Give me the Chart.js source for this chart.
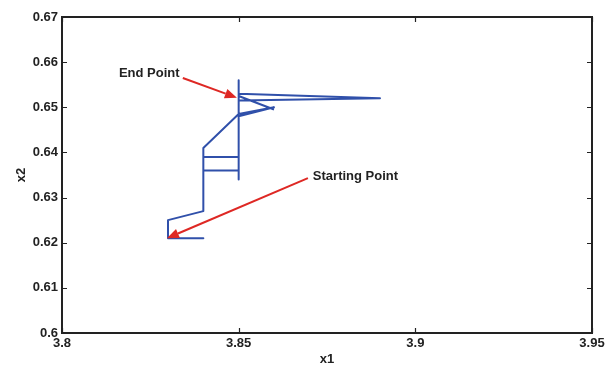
<!DOCTYPE html>
<html>
<head>
<meta charset="utf-8">
<script src="https://cdn.jsdelivr.net/npm/chart.js@4/dist/chart.umd.min.js"></script>
<style>
  html, body { margin: 0; padding: 0; background: #fff; }
  #wrap { width: 610px; height: 367px; }
</style>
</head>
<body>
<div id="wrap"><canvas id="c" width="610" height="367"></canvas></div>
<script>
// Trajectory (x1, x2)
const pathX1 = [3.83, 3.84, 3.83, 3.83, 3.84, 3.84, 3.84, 3.85, 3.85, 3.85, 3.84, 3.84, 3.85, 3.86, 3.85, 3.85, 3.85, 3.85, 3.89, 3.85, 3.85, 3.86];
const pathX2 = [0.621, 0.621, 0.621, 0.625, 0.627, 0.641, 0.636, 0.636, 0.634, 0.639, 0.639, 0.641, 0.6485, 0.650, 0.648, 0.634, 0.656, 0.6515, 0.652, 0.653, 0.6525, 0.6495];

const xTicks = [3.8, 3.85, 3.9, 3.95];
const yTicks = [0.6, 0.61, 0.62, 0.63, 0.64, 0.65, 0.66, 0.67];

// Annotations (data coordinates)
const annotLabels = ['End Point', 'Starting Point'];
const annotTextX = [3.8161, 3.8710];
const annotTextY = [0.6576, 0.6346];
const arrowTailX = [3.8342, 3.8696];
const arrowTailY = [0.6565, 0.6343];
const arrowHeadX = [3.8495, 3.8297];
const arrowHeadY = [0.6521, 0.6210];

const FONT = '"Liberation Sans", Arial, Helvetica, sans-serif';
const fmt = v => parseFloat(Number(v).toFixed(3)).toString();

const framePlugin = {
  id: 'frame',
  afterDatasetsDraw(chart) {
    const ctx = chart.ctx;
    const a = chart.chartArea;
    const xs = chart.scales.x, ys = chart.scales.y;
    ctx.save();
    // annotations
    ctx.strokeStyle = 'rgb(222,40,36)';
    ctx.fillStyle = 'rgb(222,40,36)';
    ctx.lineWidth = 2;
    for (let i = 0; i < arrowTailX.length; i++) {
      const x0 = xs.getPixelForValue(arrowTailX[i]), y0 = ys.getPixelForValue(arrowTailY[i]);
      const x1 = xs.getPixelForValue(arrowHeadX[i]), y1 = ys.getPixelForValue(arrowHeadY[i]);
      const ang = Math.atan2(y1 - y0, x1 - x0);
      const hl = 12, hw = 5;
      const bx = x1 - hl * Math.cos(ang), by = y1 - hl * Math.sin(ang);
      ctx.beginPath();
      ctx.moveTo(x0, y0);
      ctx.lineTo(bx, by);
      ctx.stroke();
      ctx.beginPath();
      ctx.moveTo(x1, y1);
      ctx.lineTo(bx + hw * Math.sin(ang), by - hw * Math.cos(ang));
      ctx.lineTo(bx - hw * Math.sin(ang), by + hw * Math.cos(ang));
      ctx.closePath();
      ctx.fill();
    }
    ctx.fillStyle = '#222';
    ctx.font = 'bold 13px ' + FONT;
    ctx.textAlign = 'left';
    ctx.textBaseline = 'middle';
    for (let i = 0; i < annotLabels.length; i++) {
      ctx.fillText(annotLabels[i], xs.getPixelForValue(annotTextX[i]), ys.getPixelForValue(annotTextY[i]));
    }
    // frame
    ctx.strokeStyle = '#222';
    ctx.lineWidth = 2;
    ctx.strokeRect(a.left, a.top, a.right - a.left, a.bottom - a.top);
    // inward ticks
    ctx.lineWidth = 1.2;
    const tl = 5;
    ctx.beginPath();
    xTicks.forEach(v => {
      const px = Math.round(xs.getPixelForValue(v)) + 0.5;
      ctx.moveTo(px, a.bottom); ctx.lineTo(px, a.bottom - tl);
      ctx.moveTo(px, a.top); ctx.lineTo(px, a.top + tl);
    });
    yTicks.forEach(v => {
      const py = Math.round(ys.getPixelForValue(v)) + 0.5;
      ctx.moveTo(a.left, py); ctx.lineTo(a.left + tl, py);
      ctx.moveTo(a.right, py); ctx.lineTo(a.right - tl, py);
    });
    ctx.stroke();
    ctx.restore();
  }
};

new Chart(document.getElementById('c'), {
  type: 'scatter',
  data: {
    datasets: [{
      data: pathX1.map((x, i) => ({ x: x, y: pathX2[i] })),
      showLine: true,
      borderColor: 'rgb(48,80,170)',
      borderWidth: 2,
      borderJoinStyle: 'round',
      borderCapStyle: 'butt',
      pointRadius: 0,
      fill: false,
      tension: 0
    }]
  },
  options: {
    responsive: false,
    animation: false,
    devicePixelRatio: 1,
    layout: { padding: { top: 17, right: 18, left: 14, bottom: 0 } },
    plugins: { legend: { display: false }, tooltip: { enabled: false } },
    scales: {
      x: {
        type: 'linear',
        min: 3.8, max: 3.95,
        grid: { display: false, drawTicks: false },
        border: { display: false },
        afterBuildTicks: s => { s.ticks = xTicks.map(v => ({ value: v })); },
        afterFit: s => { s.height = 34; },
        ticks: {
          callback: v => fmt(v),
          color: '#222',
          font: { family: FONT, size: 13, weight: 'bold' },
          padding: 3,
          maxRotation: 0,
          autoSkip: false
        },
        title: {
          display: true, text: 'x1', color: '#222',
          font: { family: FONT, size: 13, weight: 'bold' },
          padding: { top: 0, bottom: 0 }
        }
      },
      y: {
        type: 'linear',
        min: 0.6, max: 0.67,
        grid: { display: false, drawTicks: false },
        border: { display: false },
        afterBuildTicks: s => { s.ticks = yTicks.map(v => ({ value: v })); },
        afterFit: s => { s.width = 48; },
        ticks: {
          callback: v => fmt(v),
          color: '#222',
          font: { family: FONT, size: 13, weight: 'bold' },
          padding: 4,
          autoSkip: false
        },
        title: {
          display: true, text: 'x2', color: '#222',
          font: { family: FONT, size: 13, weight: 'bold' },
          padding: { top: 0, bottom: 0 }
        }
      }
    }
  },
  plugins: [framePlugin]
});
</script>
</body>
</html>
